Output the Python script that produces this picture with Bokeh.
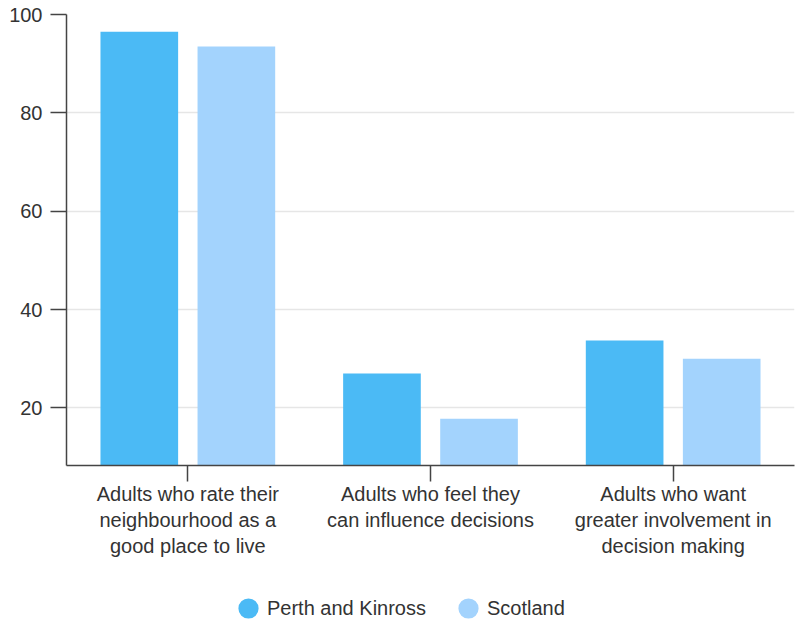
from bokeh.plotting import figure
from bokeh.models import ColumnDataSource, FactorRange, Range1d, FixedTicker, Legend, LegendItem
from bokeh.transform import dodge
from bokeh.layouts import column
from bokeh.embed import file_html
from bokeh.resources import INLINE

categories = [
    "Adults who rate their\nneighbourhood as a\ngood place to live",
    "Adults who feel they\ncan influence decisions",
    "Adults who want\ngreater involvement in\ndecision making",
]
perth = [96.5, 27.0, 33.7]
scotland = [93.5, 17.8, 30.0]
series_names = ["Perth and Kinross", "Scotland"]
y_ticks = [20, 40, 60, 80, 100]

PERTH_COL = "#4bbaf5"
SCOT_COL = "#a3d3fd"
FONT = "Liberation Sans"
TEXT_COL = "#333333"

source = ColumnDataSource(data=dict(cat=categories, perth=perth, scotland=scotland))

p = figure(
    x_range=FactorRange(*categories),
    y_range=Range1d(8.3, 100),
    width=795, height=575,
    output_backend="svg", toolbar_location=None,
    min_border_left=66, min_border_right=1, min_border_top=14, min_border_bottom=110,
)

p.vbar(x=dodge("cat", -0.2, range=p.x_range), top="perth", width=0.32,
       source=source, fill_color=PERTH_COL, line_color=None, bottom=0)
p.vbar(x=dodge("cat", 0.2, range=p.x_range), top="scotland", width=0.32,
       source=source, fill_color=SCOT_COL, line_color=None, bottom=0)

p.outline_line_color = None
p.xgrid.grid_line_color = None
p.ygrid.grid_line_color = "#e6e6e6"
p.ygrid.grid_line_width = 1.5

p.yaxis.ticker = FixedTicker(ticks=y_ticks)
for ax in (p.xaxis, p.yaxis):
    ax.axis_line_color = "#444444"
    ax.axis_line_width = 1.5
    ax.major_tick_line_color = "#444444"
    ax.major_tick_line_width = 1.5
    ax.major_tick_out = 16
    ax.major_tick_in = 0
    ax.minor_tick_line_color = None
    ax.major_label_text_font = FONT
    ax.major_label_text_font_size = "20px"
    ax.major_label_text_color = TEXT_COL
p.yaxis.major_label_standoff = 8
p.xaxis.major_label_standoff = 1

# legend strip below the chart
lg = figure(
    x_range=FactorRange(*categories),
    y_range=Range1d(8.3, 100),
    width=795, height=47,
    output_backend="svg", toolbar_location=None,
    min_border=0,
)
lg.axis.visible = False
lg.grid.visible = False
lg.outline_line_color = None
r1 = lg.scatter(x="cat", y="perth", source=source, marker="circle",
                fill_color=PERTH_COL, line_color=PERTH_COL, line_width=9, visible=False)
r2 = lg.scatter(x="cat", y="scotland", source=source, marker="circle",
                fill_color=SCOT_COL, line_color=SCOT_COL, line_width=9, visible=False)
legend = Legend(
    items=[LegendItem(label=series_names[0], renderers=[r1]),
           LegendItem(label=series_names[1], renderers=[r2])],
    orientation="horizontal",
    location=(168, 0),
    glyph_width=28, glyph_height=28,
    label_standoff=5, spacing=28, padding=0, margin=0,
    label_text_font=FONT, label_text_font_size="20px", label_text_color=TEXT_COL,
    background_fill_alpha=0, border_line_color=None,
)
lg.add_layout(legend, "center")

layout = column(p, lg, spacing=0)
open("out.html", "w").write(file_html(layout, INLINE))
